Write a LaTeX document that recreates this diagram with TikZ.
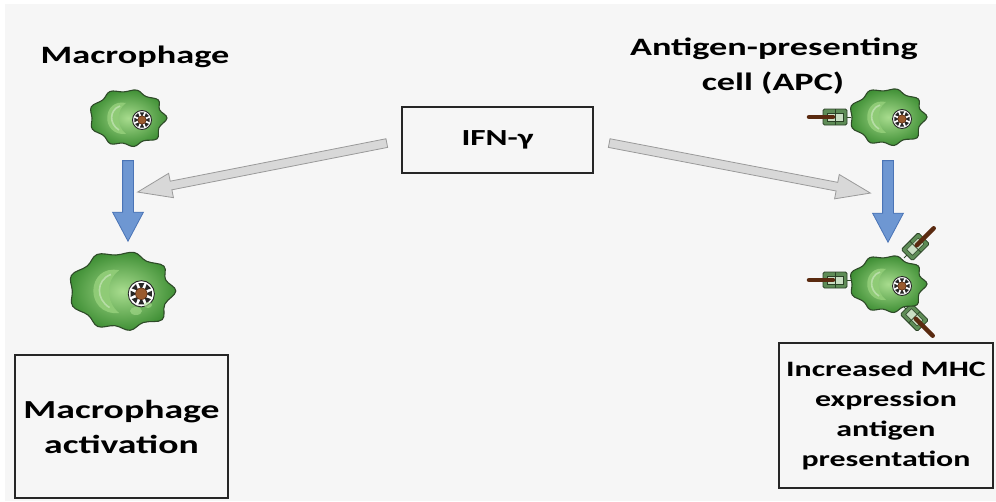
\documentclass[tikz,border=0pt]{standalone}
\usepackage{fontspec}
\setmainfont{Carlito}[FakeStretch=1.45]
\usetikzlibrary{shapes.arrows,calc}
\definecolor{bg}{HTML}{F6F6F6}
\definecolor{cellin}{HTML}{A8DC8E}
\definecolor{cellout}{HTML}{3F8F35}
\definecolor{celledge}{HTML}{2E4A28}
\definecolor{nuc}{HTML}{8FCB76}
\definecolor{mhcgreen}{HTML}{5E8C56}
\definecolor{mhcedge}{HTML}{2A4226}
\definecolor{mhclight}{HTML}{C9DEC3}
\definecolor{rod}{HTML}{5A2A10}
\definecolor{bact}{HTML}{9A5A2E}
\definecolor{bluefill}{HTML}{6E97D2}
\definecolor{bluedge}{HTML}{4A74B6}
\definecolor{greyfill}{HTML}{D8D8D8}
\definecolor{greyedge}{HTML}{9A9A9A}
\newcommand\blockarrow[4]{\path let \p1=(#3), \p2=(#4), \n1={atan2(\y2-\y1,\x2-\x1)}, \n2={veclen(\x2-\x1,\y2-\y1)} in node[#1, rotate=\n1, minimum height=\n2, anchor=tail] (#2) at (\p1) {};}
\tikzset{
  lbl/.style={font=\bfseries\fontsize{25}{30}\selectfont, inner sep=0pt},
  boxtxt/.style={draw=black!85, line width=1.6pt, align=center, inner sep=0pt},
  cellspot/.style={inner sep=0pt, draw=none},
  bluearrow/.style={single arrow, draw=bluedge, fill=bluefill, line width=0.8pt,
    inner xsep=0pt, inner ysep=5pt, text height=0pt, text depth=0pt,
    single arrow head extend=10pt, single arrow tip angle=56, minimum width=0pt},
  greyarrow/.style={single arrow, draw=greyedge, fill=greyfill, line width=0.8pt,
    inner xsep=0pt, inner ysep=4pt, text height=0pt, text depth=0pt,
    single arrow head extend=8pt, single arrow tip angle=40, minimum width=0pt},
  cellblob/.pic={
    \begin{scope}[yscale=0.85]
      \shadedraw[inner color=cellin, outer color=cellout, draw=celledge, line width=1.1pt]
        plot[smooth cycle, tension=0.65] coordinates {(0:39) (20:33) (40:38) (60:31) (80:34) (100:30) (120:35) (140:32) (160:38) (180:36) (200:39) (220:33) (240:36) (262:31) (285:34) (305:31) (325:37) (343:33)};
    \end{scope}
    \fill[nuc] (-2,-15) .. controls (-26,-20) and (-28,18) .. (-2,16) .. controls (-12,8) and (-12,-8) .. cycle;
    \draw[white, opacity=0.35, line width=1.6pt] (-8,-12) .. controls (-19,-8) and (-19,6) .. (-9,12);
    \begin{scope}[shift={(14,2)}]
      \filldraw[fill=white, draw=black!85, line width=0.9pt] (0,0) circle (9.5);
      \foreach \a in {0,45,...,315} \fill[black!85] (\a:3) -- (\a+16:8) -- (\a-16:8) -- cycle;
      \filldraw[fill=bact, draw=rod, line width=0.6pt] (0,0) circle (4.2);
    \end{scope}
  },
  mhc/.pic={
    \draw[celledge, line width=1pt] (0,0) -- (5,0);
    \filldraw[fill=mhcgreen, draw=mhcedge, line width=0.8pt, rounded corners=1.5pt] (4,-8) rectangle (28,8);
    \filldraw[fill=mhclight, draw=mhcedge, line width=0.5pt] (8,-4) rectangle (24,4);
    \draw[mhcedge, line width=0.8pt] (16,-8) -- (16,8);
    \draw[rod, line width=4.5pt, line cap=round] (18,0) -- (42,0);
  }
}
\begin{document}
\begin{tikzpicture}[x=1pt,y=-1pt]
\useasboundingbox (0,0) rectangle (996,501);
\fill[white] (0,0) rectangle (996,501);
\fill[bg] (5,4) rectangle (996,501);

% labels
\node[lbl, anchor=base] (tmac) at (135,63) {Macrophage};
\node[lbl, anchor=base] (tapc1) at (774,55) {Antigen-presenting};
\node[lbl, anchor=base] (tapc2) at (773,90) {cell (APC)};

% IFN box
\node[boxtxt, minimum width=191pt, minimum height=66pt, font=\bfseries\fontsize{23}{30}\selectfont] (ifn) at (497.5,140) {IFN-γ};

% cells
\node[cellspot, minimum width=80pt, minimum height=84pt] (m1) at (128,118) {};
\node[cellspot, minimum width=106pt, minimum height=100pt] (m2) at (122,291) {};
\node[cellspot, minimum width=80pt, minimum height=86pt] (a1) at (888,117) {};
\node[cellspot, minimum width=80pt, minimum height=84pt] (a2) at (888,284) {};

\pic at (m1) {cellblob};
\pic[scale=1.38] at (m2) {cellblob};
\fill[cellin, opacity=0.6] ($(m2)+(14,20)$) ellipse (6 and 4);
\fill[cellin, opacity=0.6] ($(m2)+(26,14)$) ellipse (4 and 3);

\pic[rotate=180] at ($(a1)+(-37,0)$) {mhc};
\pic at (a1) {cellblob};
\pic[rotate=180] at ($(a2)+(-37,-4)$) {mhc};
\pic[rotate=45] at ($(a2)+(16,-26)$) {mhc};
\pic[rotate=-45] at ($(a2)+(15,22)$) {mhc};
\pic at (a2) {cellblob};

% result boxes
\node[boxtxt, minimum width=213pt, minimum height=143pt, font=\bfseries\fontsize{26}{35}\selectfont] (mact) at (121.5,426.5) {Macrophage\\activation};
\node[boxtxt, minimum width=214pt, minimum height=145pt, font=\bfseries\fontsize{22}{30}\selectfont] (mhcbox) at (886,415.5) {Increased MHC\\expression\\antigen\\presentation};

% arrows
\coordinate (ltip) at (138,192);
\coordinate (rtip) at (870,193);
\coordinate (lstart) at ($(ifn.west)+(-14,3)$);
\coordinate (rstart) at ($(ifn.east)+(15,3)$);
\blockarrow{greyarrow}{gl}{lstart}{ltip}
\blockarrow{greyarrow}{gr}{rstart}{rtip}
\coordinate (m2top) at (m1.south |- m2.north);
\coordinate (a2top) at (a1.south |- a2.north);
\blockarrow{bluearrow}{bl}{m1.south}{m2top}
\blockarrow{bluearrow}{br}{a1.south}{a2top}
\end{tikzpicture}
\end{document}
